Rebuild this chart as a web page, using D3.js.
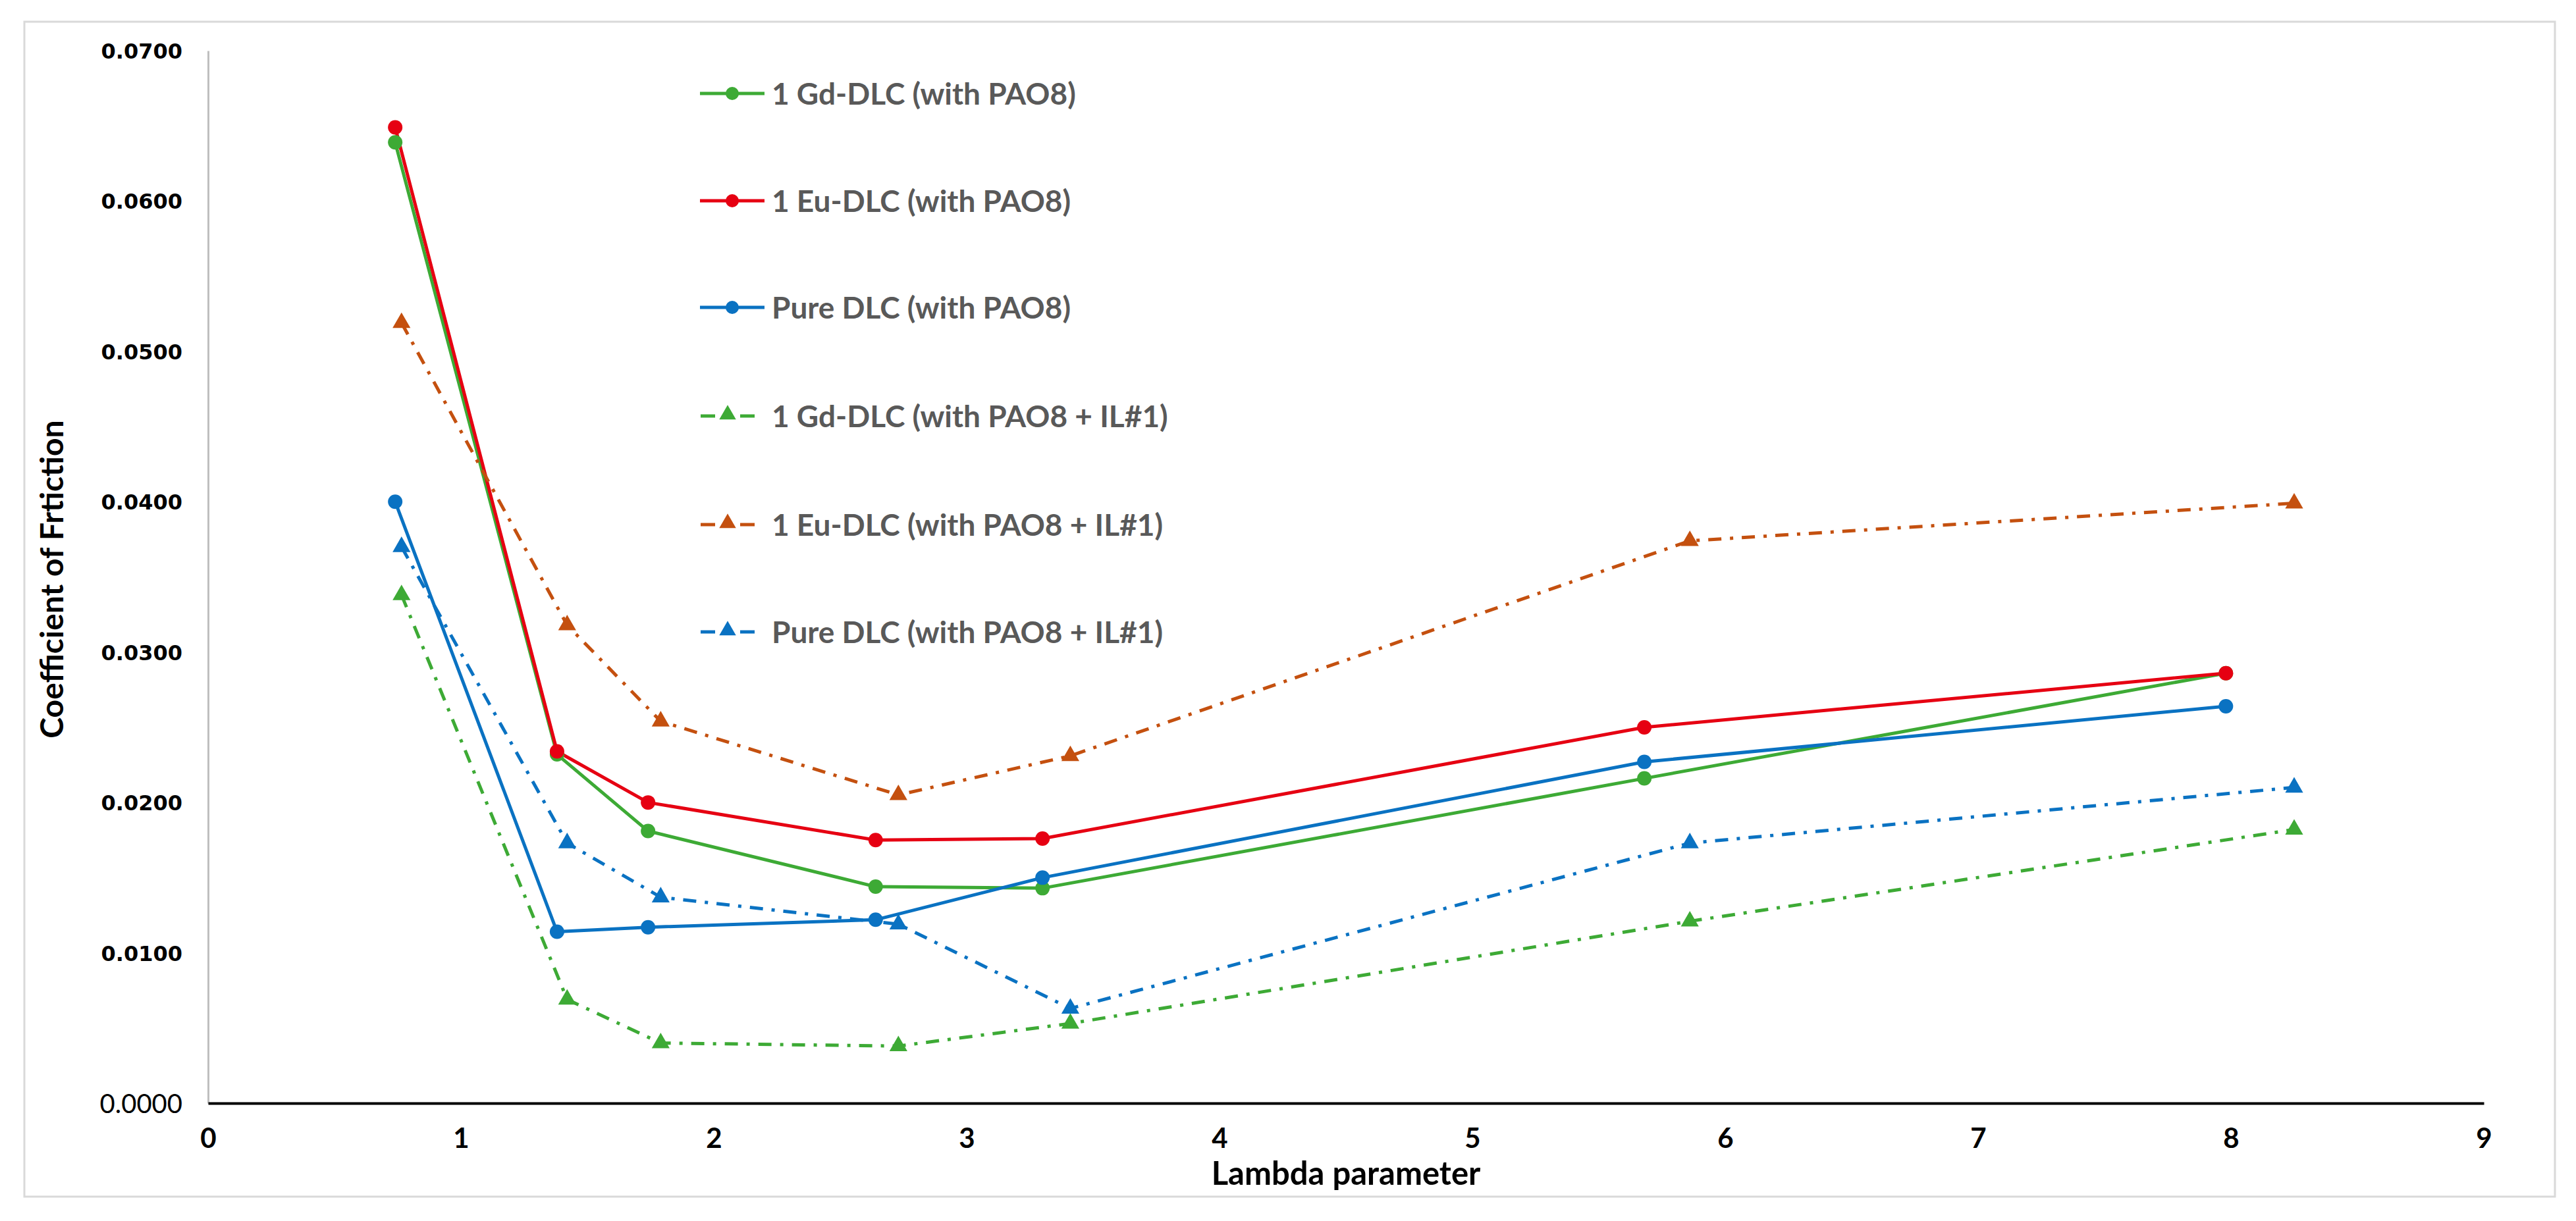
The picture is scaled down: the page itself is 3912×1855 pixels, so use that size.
<!DOCTYPE html>
<html>
<head>
<meta charset="utf-8">
<script src="https://cdn.jsdelivr.net/npm/d3@7"></script>
<style>
html,body{margin:0;padding:0;background:#fff;}
svg{display:block;}
</style>
</head>
<body>
<svg id="chart" width="3912" height="1855"></svg>
<script>
// ---- data ----
const xSolid = [0.74, 1.38, 1.74, 2.64, 3.30, 5.68, 7.98];
const xTri   = [0.765, 1.42, 1.79, 2.73, 3.41, 5.86, 8.25];

const gdPAO8   = [0.0639, 0.0232, 0.0181, 0.0144, 0.0143, 0.0216, 0.0286];
const euPAO8   = [0.0649, 0.0234, 0.0200, 0.0175, 0.0176, 0.0250, 0.0286];
const purePAO8 = [0.0400, 0.0114, 0.0117, 0.0122, 0.0150, 0.0227, 0.0264];
const gdIL     = [0.0338, 0.0069, 0.0040, 0.0038, 0.0053, 0.0121, 0.0182];
const euIL     = [0.0519, 0.0318, 0.0254, 0.0205, 0.0231, 0.0374, 0.0399];
const pureIL   = [0.0370, 0.0173, 0.0137, 0.0119, 0.0063, 0.0173, 0.0210];

const seriesNames = [
  "1 Gd-DLC (with PAO8)",
  "1 Eu-DLC (with PAO8)",
  "Pure DLC (with PAO8)",
  "1 Gd-DLC (with PAO8 + IL#1)",
  "1 Eu-DLC (with PAO8 + IL#1)",
  "Pure DLC (with PAO8 + IL#1)"
];
const xTicks = [0,1,2,3,4,5,6,7,8,9];
const yTicks = [0,0.01,0.02,0.03,0.04,0.05,0.06,0.07];
const xTitle = "Lambda parameter";
const yTitle = "Coefficient of Frtiction";

// ---- build ----
const series = [
  {name: seriesNames[0], xs: xSolid, ys: gdPAO8,   color: "#3DAA35", marker: "circle",   dashed: false},
  {name: seriesNames[1], xs: xSolid, ys: euPAO8,   color: "#E60012", marker: "circle",   dashed: false},
  {name: seriesNames[2], xs: xSolid, ys: purePAO8, color: "#0A72C2", marker: "circle",   dashed: false},
  {name: seriesNames[3], xs: xTri,   ys: gdIL,     color: "#3DAA35", marker: "triangle", dashed: true},
  {name: seriesNames[4], xs: xTri,   ys: euIL,     color: "#C4500F", marker: "triangle", dashed: true},
  {name: seriesNames[5], xs: xTri,   ys: pureIL,   color: "#0A72C2", marker: "triangle", dashed: true}
];

const svg = d3.select("#chart");

const x = d3.scaleLinear().domain([0, 9]).range([316, 3772]);
const y = d3.scaleLinear().domain([0, 0.07]).range([1676, 77]);

// outer border
svg.append("rect").attr("x", 37).attr("y", 33).attr("width", 3843).attr("height", 1785)
  .attr("fill", "#fff").attr("stroke", "#D9D9D9").attr("stroke-width", 3);

// y axis
const yAxis = d3.axisLeft(y).tickValues(yTicks).tickSize(0).tickPadding(39)
  .tickFormat(d3.format(".4f"));
const gy = svg.append("g").attr("transform", `translate(${x(0)},0)`).call(yAxis);
gy.select(".domain").attr("stroke", "#BFBFBF").attr("stroke-width", 3);
gy.selectAll(".tick text")
  .attr("font-family", "DejaVu Sans, Verdana, sans-serif")
  .attr("font-weight", "bold").attr("font-size", 32).attr("fill", "#000")
  .attr("dy", "0.36em");
gy.selectAll(".tick").filter(d => d === 0).select("text")
  .attr("font-family", "Lato, 'Open Sans', sans-serif").attr("font-size", 40)
  .attr("font-weight", "normal").attr("dy", "0.35em");

// x axis
const xAxis = d3.axisBottom(x).tickValues(xTicks).tickSize(0).tickPadding(38)
  .tickFormat(d3.format("d"));
const gx = svg.append("g").attr("transform", `translate(0,${y(0)})`).call(xAxis);
gx.select(".domain").attr("stroke", "#000").attr("stroke-width", 4);
gx.selectAll(".tick text")
  .attr("font-family", "Lato, 'Open Sans', sans-serif")
  .attr("font-weight", "bold").attr("font-size", 42).attr("fill", "#000");

// titles
svg.append("text").attr("x", (x(0) + x(9)) / 2).attr("y", 1800)
  .attr("text-anchor", "middle")
  .attr("font-family", "Lato, 'Open Sans', sans-serif").attr("font-weight", "bold")
  .attr("font-size", 49).attr("fill", "#000").text(xTitle);
svg.append("text").attr("transform", `translate(96,880) rotate(-90)`)
  .attr("text-anchor", "middle")
  .attr("font-family", "Lato, 'Open Sans', sans-serif").attr("font-weight", "bold")
  .attr("font-size", 48).attr("fill", "#000").text(yTitle);

// lines
const dashArr = "20,13,5,13";
const line = d3.line().x(d => x(d[0])).y(d => y(d[1]));
const plot = svg.append("g");
series.forEach(s => {
  const pts = s.xs.map((v, i) => [v, s.ys[i]]);
  plot.append("path").datum(pts).attr("d", line)
    .attr("fill", "none").attr("stroke", s.color)
    .attr("stroke-width", 5)
    .attr("stroke-dasharray", s.dashed ? dashArr : null)
    .attr("stroke-linejoin", "round");
});
const triSym = d3.symbol().type(d3.symbolTriangle).size(320);
series.forEach(s => {
  const pts = s.xs.map((v, i) => [v, s.ys[i]]);
  if (s.marker === "circle") {
    plot.selectAll(null).data(pts).enter().append("circle")
      .attr("cx", d => x(d[0])).attr("cy", d => y(d[1])).attr("r", 11)
      .attr("fill", s.color);
  } else {
    plot.selectAll(null).data(pts).enter().append("path")
      .attr("d", triSym)
      .attr("transform", d => `translate(${x(d[0])},${y(d[1])})`)
      .attr("fill", s.color);
  }
});

// legend
const legY = [142, 305, 467, 632, 797, 960];
const lg = svg.append("g");
series.forEach((s, i) => {
  const g = lg.append("g").attr("transform", `translate(0,${legY[i]})`);
  if (!s.dashed) {
    g.append("line").attr("x1", 1063).attr("x2", 1161).attr("y1", 0).attr("y2", 0)
      .attr("stroke", s.color).attr("stroke-width", 5);
    g.append("circle").attr("cx", 1112).attr("cy", 0).attr("r", 10).attr("fill", s.color);
  } else {
    g.append("line").attr("x1", 1064).attr("x2", 1086).attr("y1", 0).attr("y2", 0)
      .attr("stroke", s.color).attr("stroke-width", 5);
    g.append("line").attr("x1", 1124).attr("x2", 1146).attr("y1", 0).attr("y2", 0)
      .attr("stroke", s.color).attr("stroke-width", 5);
    g.append("path").attr("d", d3.symbol().type(d3.symbolTriangle).size(280))
      .attr("transform", "translate(1105,-2)").attr("fill", s.color);
  }
  g.append("text").attr("x", 1172).attr("y", 0).attr("dy", "0.36em")
    .attr("font-family", "Lato, 'Open Sans', sans-serif").attr("font-weight", "bold")
    .attr("font-size", 46).attr("fill", "#595959").text(s.name);
});
</script>
</body>
</html>
